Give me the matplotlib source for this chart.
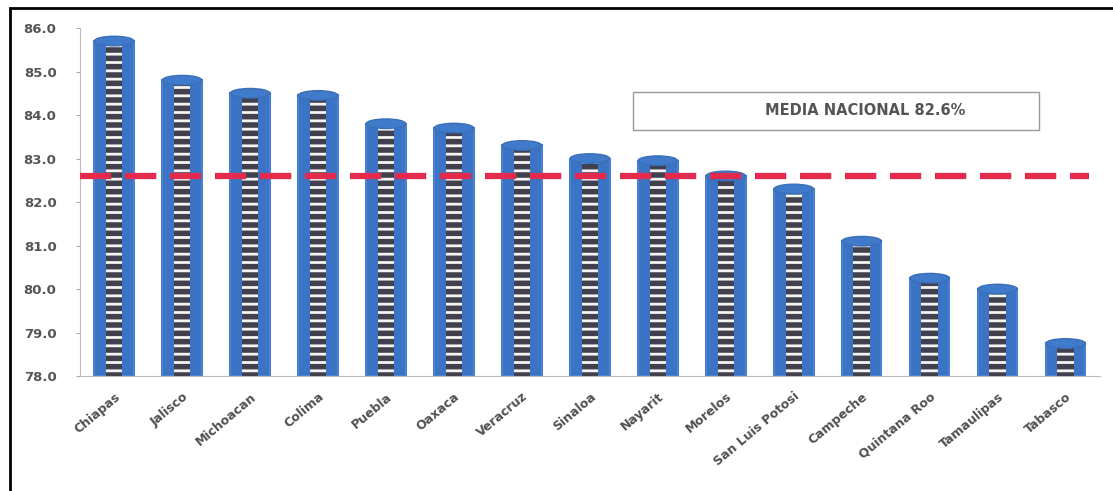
import numpy as np
import matplotlib.pyplot as plt
from matplotlib.patches import Ellipse, Rectangle

estados = ['Chiapas', 'Jalisco', 'Michoacan', 'Colima', 'Puebla', 'Oaxaca',
           'Veracruz', 'Sinaloa', 'Nayarit', 'Morelos', 'San Luis Potosi',
           'Campeche', 'Quintana Roo', 'Tamaulipas', 'Tabasco']
valores = [85.7, 84.8, 84.5, 84.45, 83.8, 83.7, 83.3, 83.0, 82.95, 82.6,
           82.3, 81.1, 80.25, 80.0, 78.75]
media_nacional = 82.6
yticks = [78.0, 79.0, 80.0, 81.0, 82.0, 83.0, 84.0, 85.0, 86.0]

plt.rcParams['hatch.linewidth'] = 2.0

fig = plt.figure(figsize=(11.13, 4.91), dpi=100)
ax = fig.add_axes([0.072, 0.234, 0.916, 0.709])

x = np.arange(len(estados))
base = yticks[0]
ancho = 0.58
alturas = np.array(valores) - base

# cilindro azul con franja interior oscura
ax.bar(x, alturas, bottom=base, width=ancho, color='#3b74c4', edgecolor='#4a82d0',
       linewidth=1.5, zorder=2)
ax.bar(x, alturas, bottom=base, width=ancho * 0.42, color='#40404e',
       edgecolor='#f4f4f4', hatch='--', linewidth=0, zorder=3)
for xi, v in zip(x, valores):
    ax.add_patch(Ellipse((xi, v), ancho, 0.22, facecolor='#3f7acb',
                         edgecolor='#3a6fb8', linewidth=1, zorder=4))

ax.plot([-0.5, len(estados) - 0.65], [media_nacional, media_nacional],
        color='#e32a4c', linewidth=4.5, dashes=(5, 2.2), zorder=5)

ax.set_xlim(-0.5, len(estados) - 0.5)
ax.set_ylim(78, 86)
ax.set_yticks(yticks)
ax.set_yticklabels(['%.1f' % t for t in yticks], fontsize=9.5,
                   fontweight='bold', color='#555555')
ax.set_xticks(x)
ax.set_xticklabels(estados, rotation=40, ha='right', rotation_mode='anchor',
                   fontsize=9, fontweight='bold', color='#505050')
ax.tick_params(axis='x', length=0, pad=10)
ax.tick_params(axis='y', length=3, color='#aaaaaa', pad=14)
for s in ['top', 'right']:
    ax.spines[s].set_visible(False)
for s in ['left', 'bottom']:
    ax.spines[s].set_color('#bbbbbb')

# cuadro de la media nacional
ax.add_patch(Rectangle((0.542, 0.707), 0.399, 0.109, transform=ax.transAxes,
                       facecolor='white', edgecolor='#999999', linewidth=1, zorder=6))
ax.text(0.77, 0.762, 'MEDIA NACIONAL 82.6%', transform=ax.transAxes,
        ha='center', va='center', fontsize=10.5, fontweight='bold',
        color='#555555', zorder=7)

# marco exterior
fig.patches.append(Rectangle((0.009, -0.02), 1.1, 1.004, transform=fig.transFigure,
                             fill=False, edgecolor='black', linewidth=2))

fig.savefig('out.png', dpi=100)
